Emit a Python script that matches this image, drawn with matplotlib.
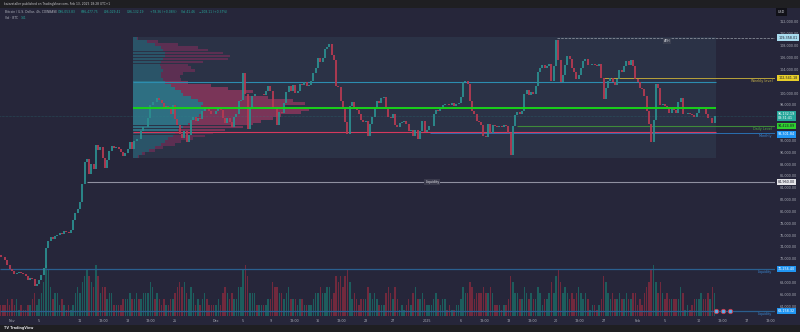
import matplotlib.pyplot as plt
from matplotlib.patches import Rectangle
from matplotlib.transforms import blended_transform_factory

# ---- candles: 8h closes in thousands USD ----
first_open = 72.6
start_day = -5 / 3  # Oct 30 08:00, days counted from Nov 1 00:00

close_oct = [72.3, 72.2, 71.8, 70.9, 70.3]
close_nov = [
    70.0, 69.4, 69.6, 69.8, 69.5, 69.4, 69.1, 68.4, 68.8, 68.5, 67.3, 67.8,
    68.4, 69.2, 70.4, 73.8, 75.0, 75.6, 75.3, 75.9, 76.0, 76.3, 76.2, 76.6,
    76.5, 76.3, 76.8, 78.6, 79.7, 80.4, 81.5, 84.6, 88.3, 88.8, 86.3, 88.0,
    87.1, 91.2, 90.4, 90.8, 89.0, 87.4, 88.6, 90.2, 91.0, 90.7, 90.9, 90.6,
    90.0, 89.3, 89.8, 90.6, 91.7, 90.5, 91.9, 92.3, 92.2, 93.6, 94.2, 94.3,
    95.8, 97.9, 98.5, 98.4, 99.2, 98.9, 98.3, 97.6, 97.8, 97.5, 96.4, 97.9,
    95.6, 94.6, 93.0, 92.4, 93.5, 91.8, 92.9, 95.4, 96.0, 95.2, 95.7, 95.6,
    96.9, 97.6, 97.4, 96.9, 96.5, 96.4,
]
close_dec = [
    96.9, 97.4, 97.2, 95.8, 94.9, 95.8, 95.1, 94.2, 95.9, 96.5, 98.6, 98.8,
    103.3, 99.8, 94.0, 97.5, 99.5, 99.9, 99.8, 99.9, 99.9, 99.6, 100.4, 101.2,
    100.3, 97.5, 97.3, 94.6, 96.8, 96.6, 98.3, 100.1, 101.1, 100.4, 101.3, 100.0,
    100.4, 101.5, 101.4, 101.8, 101.2, 101.4, 102.0, 103.3, 104.3, 106.0, 105.3, 106.0,
    107.4, 107.8, 108.2, 106.5, 105.6, 101.2, 101.0, 98.6, 97.5, 95.1, 93.0, 97.8,
    98.5, 97.6, 97.2, 96.5, 95.4, 95.1, 95.2, 92.8, 94.8, 96.0, 97.4, 98.7,
    98.3, 99.2, 99.3, 97.6, 95.9, 95.8, 96.5, 94.6, 94.3, 94.9, 95.1, 95.3,
    94.8, 93.6, 93.7, 92.8, 93.7, 92.3, 93.5, 95.2, 93.4,
]
close_jan = [
    93.8, 94.4, 94.5, 96.4, 97.2, 96.9, 97.3, 97.9, 98.2, 98.1, 98.0, 98.3,
    97.8, 98.2, 98.3, 99.4, 101.8, 102.1, 101.5, 98.6, 96.9, 96.5, 95.2, 95.1,
    94.6, 92.8, 92.6, 94.7, 93.2, 94.6, 94.4, 94.3, 94.5, 94.2, 94.6, 94.5,
    93.2, 89.6, 94.5, 96.2, 96.8, 96.5, 97.0, 99.8, 100.5, 99.6, 100.2, 99.9,
    101.2, 103.5, 104.2, 104.8, 104.2, 104.5, 104.9, 102.0, 104.6, 109.0, 105.5, 101.8,
    103.0, 104.8, 106.2, 105.8, 104.2, 103.6, 102.4, 103.1, 104.2, 105.4, 105.8, 104.7,
    104.8, 104.9, 104.7, 104.6, 104.9, 102.5, 99.0, 100.8, 102.1, 102.6, 101.8, 101.4,
    102.4, 103.9, 103.6, 104.6, 105.4, 104.7, 105.5, 104.5, 102.4,
]
close_feb = [
    101.8, 100.9, 100.6, 99.5, 97.0, 94.8, 91.8, 95.5, 101.6, 100.9, 98.0, 98.2,
    97.8, 97.3, 96.6, 97.5, 97.2, 96.6, 98.4, 99.1, 96.4, 96.5, 96.6, 96.5,
    96.3, 95.9, 96.6, 97.3, 97.6, 97.4, 96.5, 95.7, 95.8, 94.9, 96.1,
]

# volume per candle (relative units 1-9), one group per day
vol_oct = "22 232"
vol_nov = ("323 121 122 342 346 985 344 232 121 245 467 876 597 455 344 "
           "222 233 343 343 344 465 343 232 233 456 564 354 232 343 222")
vol_dec = ("232 454 343 355 897 444 222 223 365 544 345 333 233 222 234 454 "
           "455 347 675 786 343 233 354 343 222 454 353 121 232 453 343")
vol_jan = ("222 343 233 121 122 354 465 344 454 454 222 122 376 443 354 343 "
           "354 233 464 786 454 343 454 343 122 123 764 343 343 343 344")
vol_feb = "232 456 896 464 343 333 354 121 233 343 343 54"

# visible-range volume profile (price rows in thousands, up / down volume)
vp_price = [89.25, 89.75, 90.25, 90.75, 91.25, 91.75, 92.25, 92.75, 93.25, 93.75,
            94.25, 94.75, 95.25, 95.75, 96.25, 96.75, 97.25, 97.75, 98.25, 98.75,
            99.25, 99.75, 100.25, 100.75, 101.25, 101.75, 102.25, 102.75, 103.25,
            103.75, 104.25, 104.75, 105.25, 105.75, 106.25, 106.75, 107.25, 107.75,
            108.25, 108.75, 109.25]
vp_up = [5, 9, 16, 22, 28, 32, 35, 40, 42, 45, 50, 55, 58, 62, 66, 70, 72, 68, 70,
         65, 58, 50, 48, 42, 38, 32, 30, 28, 28, 30, 28, 27, 28, 30, 32, 32, 30, 28,
         22, 14, 4]
vp_down = [1, 3, 6, 8, 14, 16, 25, 32, 38, 47, 60, 65, 70, 78, 82, 98, 104, 82, 102,
           95, 77, 62, 72, 53, 40, 23, 18, 19, 22, 32, 30, 28, 42, 65, 65, 58, 45, 37,
           23, 11, 1]

# levels (thousands USD)
vah, poc, val = 101.86, 97.40, 93.41
ath = 109.36
weekly = 102.54
daily = 94.42
monthly = 93.30
liq_mid = 84.96
liq_low = [70.26, 63.16]
last_price = 96.13
event_days = [103.5, 104.5, 105.6]

tick_days = [0, 4, 10, 13.4, 17, 20.4, 24, 30, 34, 38, 41.5, 45, 48.5, 52, 56, 61,
             66, 69.5, 73, 76.5, 80, 83.5, 87, 92, 96, 101, 104.5, 108, 111.5]
tick_labels = ["Nov", "5", "11", "13:00", "18", "13:00", "25", "Dec", "5", "9",
               "13:00", "16", "13:00", "23", "27", "2025", "6", "13:00", "13",
               "13:00", "20", "13:00", "27", "Feb", "5", "10", "13:00", "17", "13:00"]
# scale labels that sit under a price box in the original
hidden_ticks = [70, 94, 96, 102]

BG = "#26263a"
UP, DOWN = "#2b8f90", "#b63a52"
TXT = "#a9acb6"


def main():
    closes = close_oct + close_nov + close_dec + close_jan + close_feb
    vols = [int(c) for c in (vol_oct + vol_nov + vol_dec + vol_jan + vol_feb) if c != " "]
    n = len(closes)
    days = [start_day + i / 3 for i in range(n)]
    opens = [first_open] + closes[:-1]
    cols = [UP if c >= o else DOWN for o, c in zip(opens, closes)]

    fig = plt.figure(figsize=(8, 3.32), dpi=100)
    fig.patch.set_facecolor(BG)
    rect = [0, 16 / 332, 775 / 800, 308 / 332]
    xlim = (-1.765, 112.2)

    # volume pane underneath
    axv = fig.add_axes(rect)
    axv.axis("off")
    axv.set_xlim(*xlim)
    axv.set_ylim(0, 54)
    vcols = ["#7a2a3e" if c == DOWN else "#1d6462" for c in cols]
    axv.bar(days, vols[:n], width=0.22, color=vcols, alpha=0.9)

    ax = fig.add_axes(rect)
    ax.patch.set_visible(False)
    ax.set_xlim(*xlim)
    ax.set_ylim(62.313, 114.366)
    for s in ax.spines.values():
        s.set_visible(False)

    # volume profile box + rows
    vp_start, vp_end = 17.8, 103.5
    ax.add_patch(Rectangle((vp_start, 89.0), vp_end - vp_start, 109.46 - 89.0,
                           fc="#2b3246", ec="none", zorder=0.5))
    sc = 1 / 6.8
    for p, u, d in zip(vp_price, vp_up, vp_down):
        inside = val <= p <= vah
        cu = "#2e6f82" if inside else "#2a5468"
        cd = "#7a3558" if inside else "#5c2f52"
        ax.barh(p, u * sc, left=vp_start, height=0.47, color=cu, zorder=1)
        ax.barh(p, d * sc, left=vp_start + u * sc, height=0.47, color=cd, zorder=1)

    # level lines
    right = xlim[1]
    ax.hlines(last_price, xlim[0], right, color="#2a8a8a", lw=0.4,
              linestyles=(0, (1, 1.5)), alpha=0.7, zorder=1.5)
    ax.hlines(vah, vp_start, vp_end, color="#2c8db0", lw=0.8, zorder=2)
    ax.hlines(val, vp_start, vp_end, color="#d6395d", lw=0.8, zorder=2)
    ax.hlines(monthly, 61.5, right, color="#2a6fb0", lw=0.7, zorder=1.8)
    ax.hlines(daily, 74.3, right, color="#3f8a3a", lw=0.8, zorder=2)
    ax.hlines(weekly, 86.9, right, color="#b8a23a", lw=0.7, zorder=2)
    ax.hlines(ath, 80.1, right, color="#9aa0aa", lw=0.5, linestyles="--", zorder=2)
    ax.hlines(liq_mid, 11.0, right, color="#8f90a0", lw=0.8, zorder=2)
    for lv in liq_low:
        ax.hlines(lv, xlim[0], right, color="#2a5f8f", lw=0.9, zorder=2)

    # candles (bodies)
    lo = [min(o, c) for o, c in zip(opens, closes)]
    hi = [max(o, c) for o, c in zip(opens, closes)]
    ax.vlines(days, lo, hi, colors=cols, lw=1.3, zorder=3)

    ax.hlines(poc, vp_start, vp_end, color="#19d119", lw=1.4, zorder=4)

    # level captions
    fs = 2.4
    ax.text(96.3, ath - 0.25, "ATH", fontsize=fs, color="#d0d3da", ha="center",
            va="top", zorder=5, bbox=dict(boxstyle="square,pad=0.25", fc="#3a3f50", ec="none"))
    ax.text(61.8, liq_mid, "Liquidity", fontsize=fs, color="#e0e0e6", ha="center",
            va="center", zorder=5, bbox=dict(boxstyle="square,pad=0.3", fc="#3a3a4c", ec="none"))
    ax.text(111.8, weekly - 0.25, "Weekly level", fontsize=fs, color="#c9b44a",
            ha="right", va="top", zorder=5)
    ax.text(111.8, daily - 0.2, "Daily Level", fontsize=fs, color="#4fb040",
            ha="right", va="top", zorder=5)
    ax.text(111.8, monthly - 0.25, "Monthly", fontsize=fs, color="#3a86d0",
            ha="right", va="top", zorder=5)
    for lv in liq_low:
        ax.text(111.8, lv - 0.25, "Liquidity", fontsize=fs, color="#3a86d0",
                ha="right", va="top", zorder=5)

    ax.scatter(event_days, [liq_low[1]] * len(event_days), s=10, fc="#5aaee8",
               ec="#d03848", lw=0.6, zorder=6, clip_on=False)

    # axes ticks
    ax.yaxis.tick_right()
    yt = list(range(64, 113, 2))
    ax.set_yticks(yt)
    ax.set_yticklabels(["" if v in hidden_ticks else f"{v * 1000:,.2f}" for v in yt])
    ax.tick_params(axis="y", length=0, pad=3.5, labelsize=fs, labelcolor=TXT)
    ax.set_xticks(tick_days)
    ax.set_xticklabels(tick_labels)
    ax.tick_params(axis="x", length=0, pad=2, labelsize=fs, labelcolor=TXT)

    # price boxes on the scale
    tr = blended_transform_factory(ax.transAxes, ax.transData)
    boxes = [
        (ath, "109,358.01", "#a8dcef", "#1a1a2a"),
        (weekly, "102,541.18", "#e8cf2a", "#1a1a2a"),
        (last_price, "96,132.19\n03:31:41", "#26a69a", "#ffffff"),
        (daily, "94,424.89", "#2fd12f", "#1a1a2a"),
        (monthly - 0.3, "93,301.84", "#2196f3", "#ffffff"),
        (liq_mid, "84,960.00", "#e6e6ea", "#1a1a2a"),
        (liq_low[0], "70,256.40", "#2196f3", "#ffffff"),
        (liq_low[1], "63,158.32", "#2196f3", "#ffffff"),
    ]
    for y, t, fc, tc in boxes:
        ax.text(1.004, y, t, transform=tr, fontsize=fs, color=tc, ha="left",
                va="center", linespacing=1.1, clip_on=False, zorder=7,
                bbox=dict(boxstyle="square,pad=0.35", fc=fc, ec="none"))
    fig.text(778 / 800, 1 - 12 / 332, "USD", fontsize=fs, color="#d0d3da", va="center",
             bbox=dict(boxstyle="square,pad=0.5", fc="#111118", ec="none"))

    # header / footer strips
    fig.add_artist(Rectangle((0, 1 - 8 / 332), 1, 8 / 332, transform=fig.transFigure,
                             fc="#1f1f22", ec="none"))
    fig.add_artist(Rectangle((0, 0), 1, 7 / 332, transform=fig.transFigure,
                             fc="#1f1f22", ec="none"))
    fig.text(4 / 800, 1 - 4 / 332, "kaizzstaller published on TradingView.com, Feb 13, 2025 18:28 UTC+1",
             fontsize=2.2, color="#c8c8cc", va="center")
    fig.text(4 / 800, 3.5 / 332, "TV TradingView", fontsize=2.4, color="#d8d8dc",
             va="center", weight="bold")

    ty = 1 - 12 / 332
    fig.text(5 / 800, ty, "Bitcoin / U.S. Dollar, 4h, COINBASE", fontsize=2.2,
             color="#b0b3bd", va="center")
    ohlc = [(58, "O96,053.83"), (81, "H96,477.75"), (104, "L96,029.41"),
            (127, "C96,132.19"), (150, "+78.36 (+0.08%)"),
            (181, "Vol 41.46"), (199, "\u2212208.11 (+0.37%)")]
    for x, t in ohlc:
        fig.text(x / 800, ty, t, fontsize=2.2, color="#26a69a", va="center")
    fig.text(5 / 800, 1 - 18 / 332, "Vol \u00b7 BTC", fontsize=2.2, color="#b0b3bd", va="center")
    fig.text(21 / 800, 1 - 18 / 332, "141", fontsize=2.2, color="#26a69a", va="center")

    plt.savefig("out.png", dpi=100, facecolor=BG)


if __name__ == "__main__":
    main()
